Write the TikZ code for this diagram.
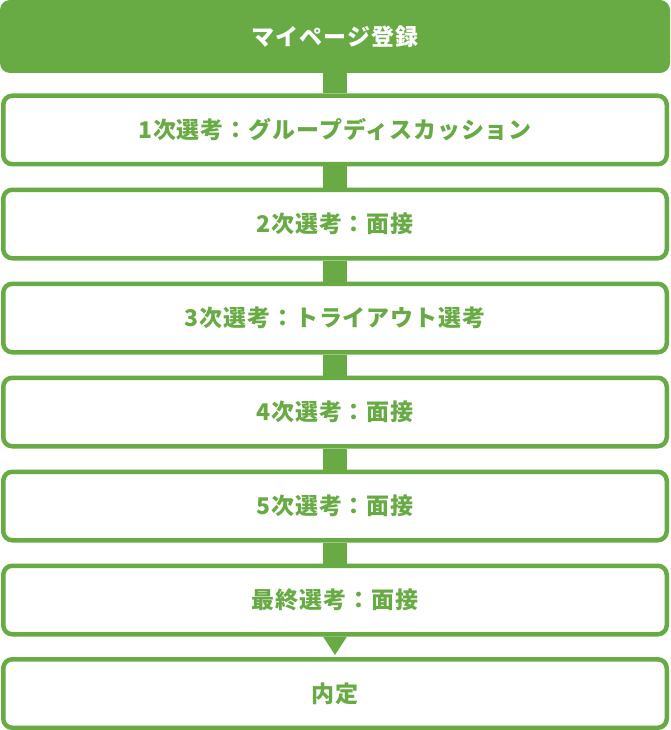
\documentclass[tikz,border=0pt]{standalone}
\usepackage{fontspec}
\newfontfamily\jp{Noto Sans CJK JP}[LetterSpace=4]
\usetikzlibrary{calc}
\definecolor{grn}{HTML}{68AB45}
\tikzset{
  stepbox/.style={draw=grn, line width=4.5pt, fill=white, rounded corners=9pt,
    minimum width=663.5pt, minimum height=68.5pt, inner sep=0pt,
    font=\jp\bfseries\fontsize{23pt}{27pt}\selectfont, text=grn},
  headbox/.style={fill=grn, rounded corners=10pt, draw=none,
    minimum width=670pt, minimum height=73pt, inner sep=0pt,
    font=\jp\bfseries\fontsize{23pt}{27pt}\selectfont, text=white},
  bar/.style={fill=grn}
}
\begin{document}
\begin{tikzpicture}[x=1pt,y=1pt]
\useasboundingbox (0,0) rectangle (670,-730);
\node[headbox] (h) at (335,-36.5) {マイページ登録};
\node[stepbox] (s1) at (335,-130) {1次選考：グループディスカッション};
\node[stepbox] (s2) at (335,-224) {2次選考：面接};
\node[stepbox] (s3) at (335,-318) {3次選考：トライアウト選考};
\node[stepbox] (s4) at (335,-412) {4次選考：面接};
\node[stepbox] (s5) at (335,-506) {5次選考：面接};
\node[stepbox] (s6) at (335,-600) {最終選考：面接};
\node[stepbox] (s7) at (335,-693.5) {内定};
\fill[bar] ([xshift=-12pt]h.south) rectangle ([xshift=12pt]s1.north);
\fill[bar] ([xshift=-12pt]s1.south) rectangle ([xshift=12pt]s2.north);
\fill[bar] ([xshift=-12pt]s2.south) rectangle ([xshift=12pt]s3.north);
\fill[bar] ([xshift=-12pt]s3.south) rectangle ([xshift=12pt]s4.north);
\fill[bar] ([xshift=-12pt]s4.south) rectangle ([xshift=12pt]s5.north);
\fill[bar] ([xshift=-12pt]s5.south) rectangle ([xshift=12pt]s6.north);
\fill[bar] ([xshift=-12pt]s6.south) -- ([xshift=12pt]s6.south) -- ($(s6.south)+(0,-18.5)$) -- cycle;
\end{tikzpicture}
\end{document}
